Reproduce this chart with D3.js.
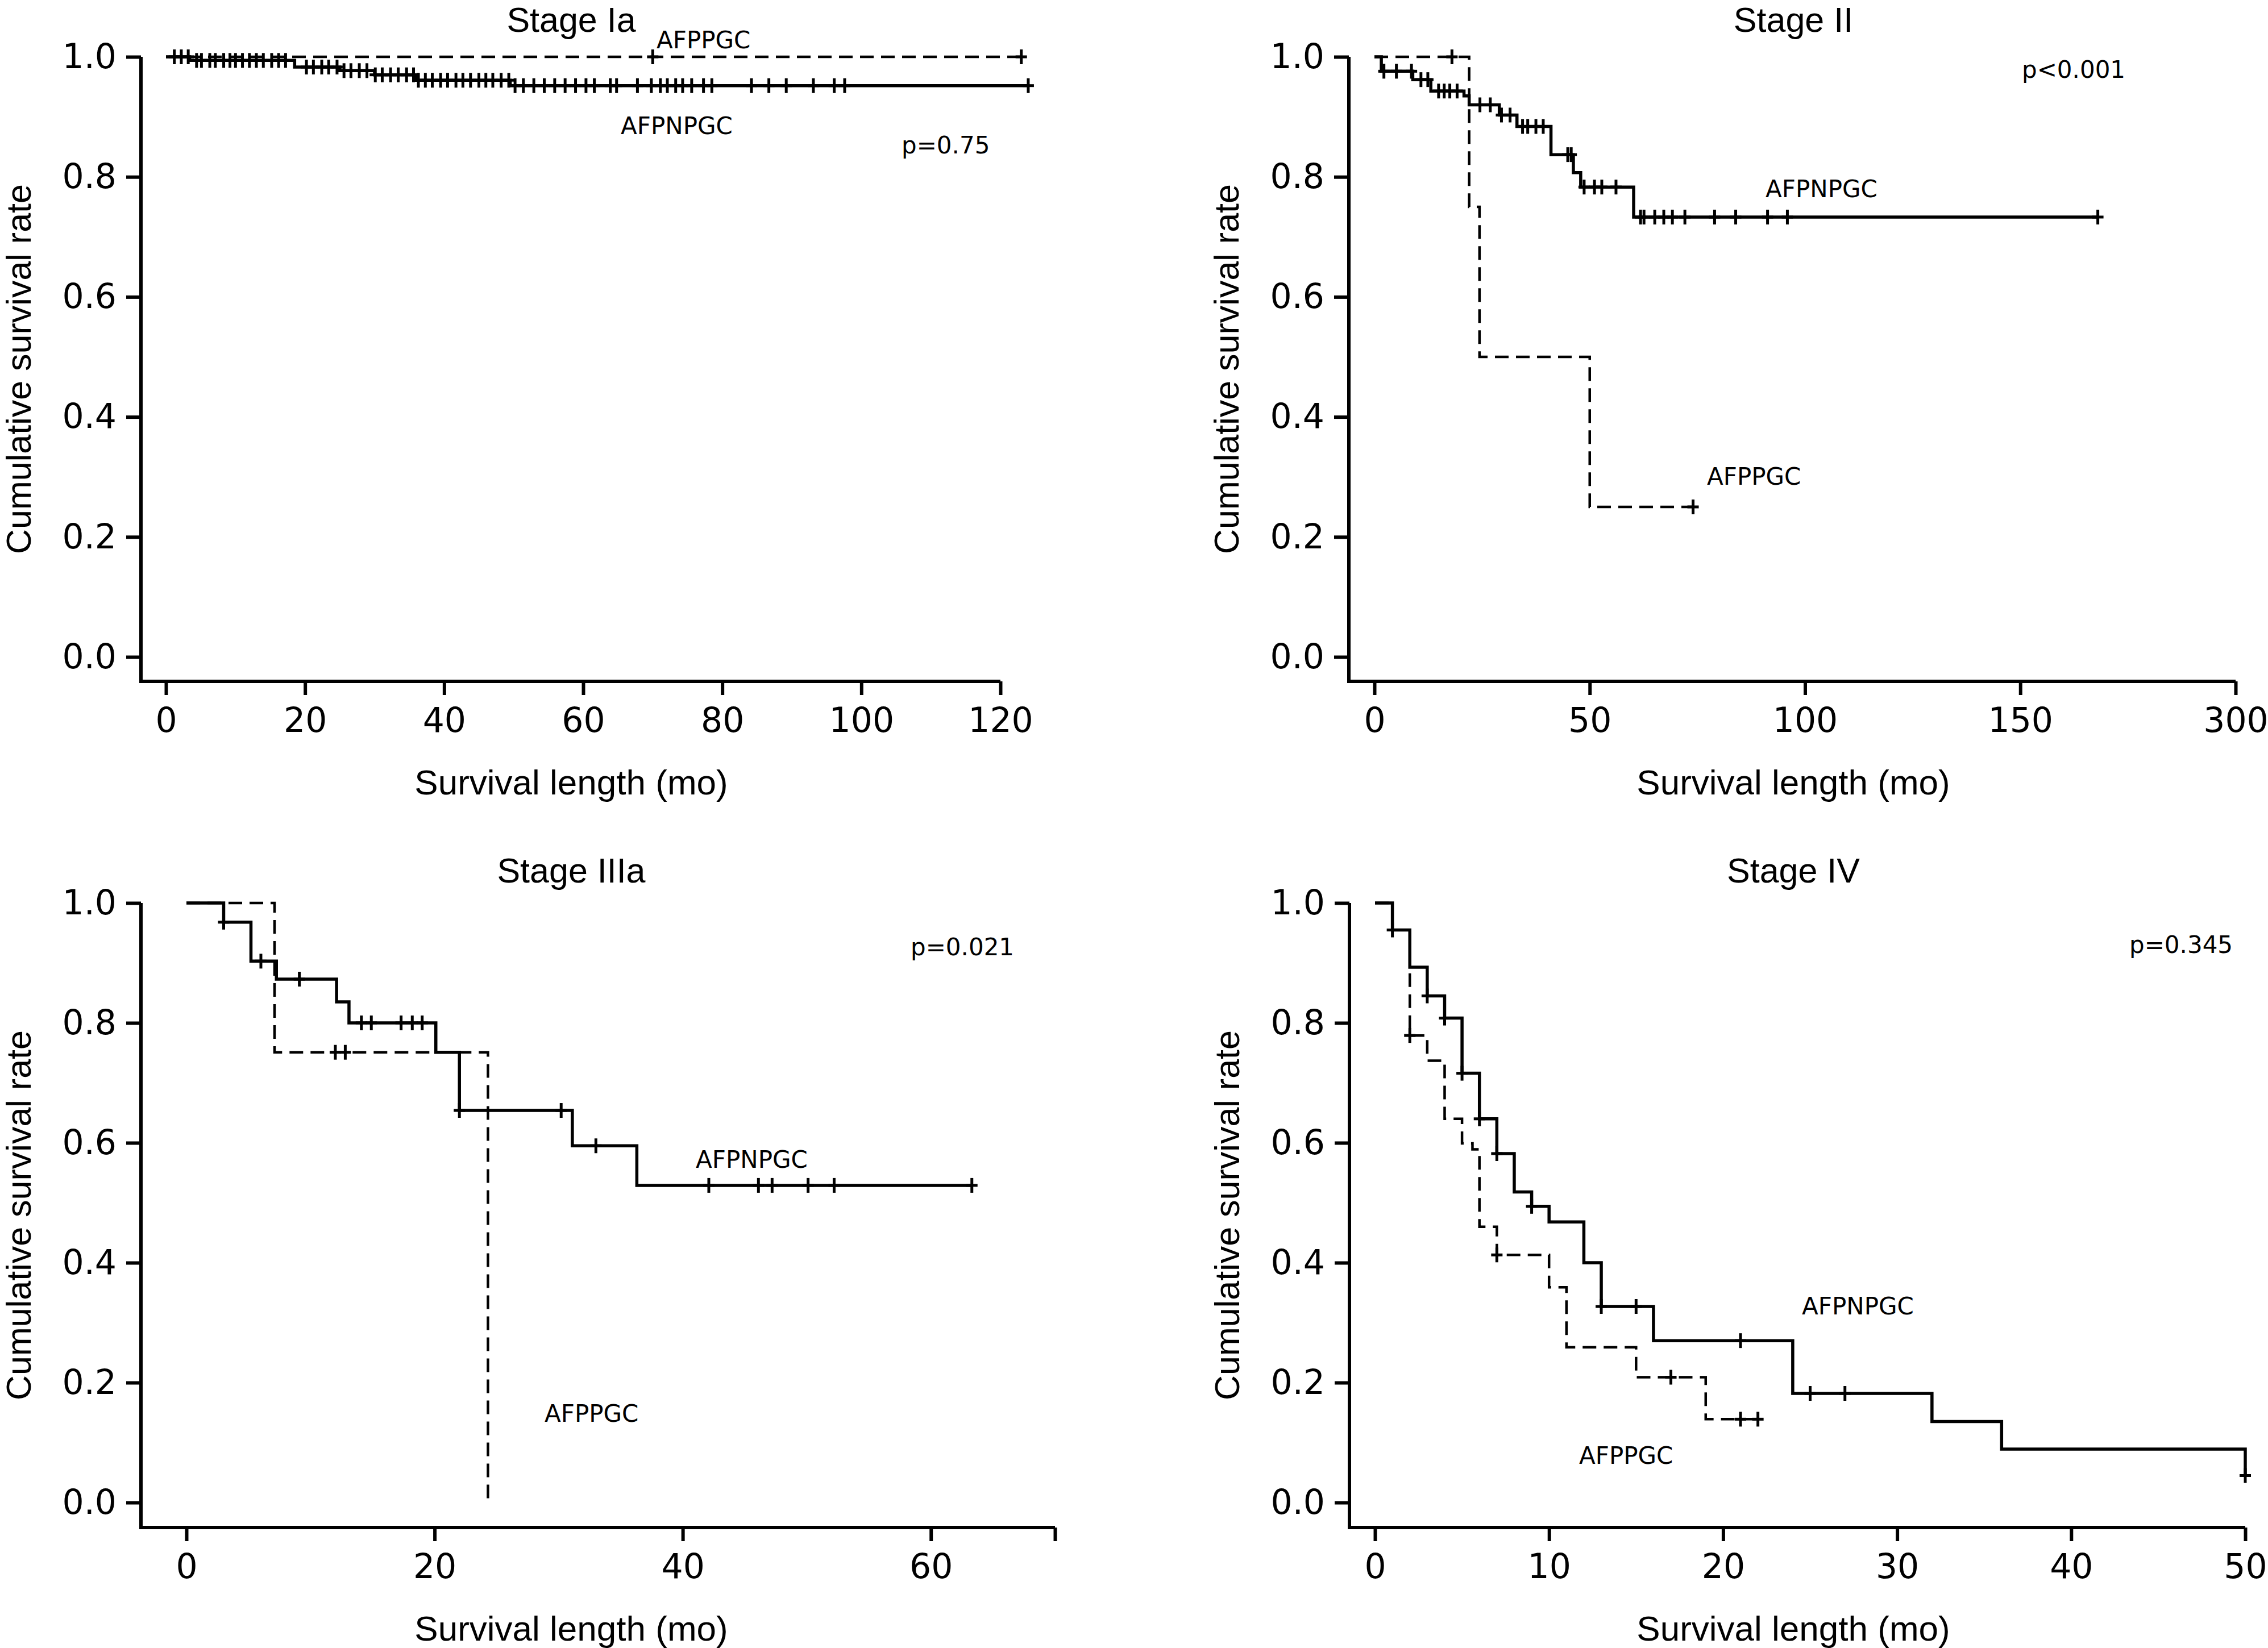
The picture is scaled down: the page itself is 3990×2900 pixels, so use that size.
<!DOCTYPE html>
<html><head><meta charset="utf-8">
<script src="https://cdn.jsdelivr.net/npm/d3@7"></script>
<style>body{margin:0;background:#fff}</style>
</head><body>
<svg id="c" width="3990" height="2900" xmlns="http://www.w3.org/2000/svg"></svg>
<script>
// ---------------- DATA ----------------
const yTickValues = [0, 0.2, 0.4, 0.6, 0.8, 1.0];
const panelTitles = ["Stage Ia", "Stage II", "Stage IIIa", "Stage IV"];
const pValues = ["p=0.75", "p<0.001", "p=0.021", "p=0.345"];
const xTitle = "Survival length (mo)";
const yTitle = "Cumulative survival rate";

// Stage Ia
const iaXTicks = [0, 20, 40, 60, 80, 100, 120];
const iaXTickLabels = ["0", "20", "40", "60", "80", "100", "120"];
const iaPosTimes = [0];
const iaPosSurv = [1.0];
const iaPosEnd = 123;
const iaPosCensor = [70, 123];
const iaNegTimes = [0, 3.4, 18.5, 25, 30, 36, 49.5];
const iaNegSurv = [1.0, 0.994, 0.983, 0.977, 0.970, 0.961, 0.952];
const iaNegEnd = 124;
const iaNegCensor = [1.2, 2.2, 3.2, 4.4, 5.1, 6.3, 7.1, 8.3, 9.2, 10.0, 11.0, 12.0, 13.0, 14.0, 15.2, 16.2, 17.2,
  20.2, 21.2, 22.4, 23.4, 24.6, 25.6, 26.6, 27.8, 28.9, 30.1, 31.1, 32.3, 33.4, 34.6, 35.6,
  36.3, 37.3, 38.3, 39.5, 40.5, 41.7, 42.7, 43.8, 45.0, 46.0, 47.0, 48.2, 49.3,
  50.2, 51.4, 52.9, 54.4, 55.9, 57.4, 58.9, 60.4, 61.6, 63.9, 64.8, 67.8, 69.8, 71.1, 72.1, 73.3,
  74.3, 75.6, 77.3, 78.5, 84.2, 86.7, 89.2, 93.1, 96.1, 97.6, 124];

// Stage II
const iiXTicks = [0, 50, 100, 150, 200];
const iiXTickLabels = ["0", "50", "100", "150", "300"];
const iiPosTimes = [0, 22, 24.4, 50];
const iiPosSurv = [1.0, 0.75, 0.5, 0.25];
const iiPosEnd = 74;
const iiPosCensor = [18, 74];
const iiNegTimes = [0, 1.6, 8.9, 13.1, 20.8, 22, 29, 33.1, 41, 46.2, 47.9, 60.2];
const iiNegSurv = [1.0, 0.976, 0.962, 0.943, 0.935, 0.920, 0.903, 0.884, 0.837, 0.807, 0.783, 0.733];
const iiNegEnd = 168;
const iiNegCensor = [2.2, 5.1, 8.6, 10.8, 12.4, 14.9, 16.2, 17.5, 19.2, 24.5, 26.9, 29.5, 31.5, 34.4, 35.6,
  37.5, 39.2, 44.9, 45.7, 48.7, 51.1, 52.8, 56.1, 61.8, 62.6, 65.1, 67.2, 69.2, 72.1, 79.0, 83.9, 91.3, 95.9, 168];

// Stage IIIa
const iiiXTicks = [0, 20, 40, 60, 70];
const iiiXTickLabels = ["0", "20", "40", "60", ""];
const iiiNegTimes = [0, 3, 5.2, 7.25, 12.1, 13.1, 20.1, 22, 31.1, 36.3];
const iiiNegSurv = [1.0, 0.968, 0.903, 0.873, 0.835, 0.800, 0.751, 0.654, 0.595, 0.529];
const iiiNegEnd = 63.3;
const iiiNegCensor = [3, 6, 9.1, 14.1, 14.9, 17.3, 18.2, 19.0, 22, 30.2, 33, 42.1, 46.1, 47.2, 50.1, 52.2, 63.3];
const iiiPosTimes = [0, 7.1, 24.3];
const iiiPosSurv = [1.0, 0.751, 0.0];
const iiiPosEnd = 24.3;
const iiiPosCensor = [12.0, 12.8];

// Stage IV
const ivXTicks = [0, 10, 20, 30, 40, 50];
const ivXTickLabels = ["0", "10", "20", "30", "40", "50"];
const ivNegTimes = [0, 1, 2, 3, 4, 5, 6, 7, 8, 9, 10, 12, 13, 16, 24, 32, 36, 50];
const ivNegSurv = [1.0, 0.955, 0.893, 0.845, 0.808, 0.716, 0.640, 0.582, 0.518, 0.494, 0.468, 0.400, 0.327, 0.270, 0.182, 0.135, 0.089, 0.045];
const ivNegEnd = 50;
const ivNegCensor = [1, 3, 4, 5, 6, 7, 9, 13, 15, 21, 25, 27, 50];
const ivPosTimes = [0, 1, 2, 3, 4, 5, 5.6, 6, 7, 10, 11, 15, 19];
const ivPosSurv = [1.0, 0.955, 0.779, 0.737, 0.640, 0.599, 0.589, 0.460, 0.413, 0.359, 0.259, 0.209, 0.139];
const ivPosEnd = 22;
const ivPosCensor = [2, 7, 17, 21, 22];

// ---------------- DRAW ----------------
const svg = d3.select("#c");
const FONT_MAIN = "'Liberation Sans', Arial, sans-serif";
const FONT_SMALL = "'DejaVu Sans', sans-serif";

function survAt(times, surv, t) {
  let s = surv[0];
  for (let i = 0; i < times.length; i++) if (times[i] <= t + 1e-9) s = surv[i];
  return s;
}

function drawCurve(g, x, y, times, surv, end, censor, dashed) {
  const pts = times.map((t, i) => [t, surv[i]]);
  pts.push([end, surv[surv.length - 1]]);
  const line = d3.line().x(d => x(d[0])).y(d => y(d[1])).curve(d3.curveStepAfter);
  g.append("path").attr("d", line(pts)).attr("fill", "none").attr("stroke", "#000")
    .attr("stroke-width", dashed ? 4.5 : 5.5)
    .attr("stroke-dasharray", dashed ? "24,13" : null);
  const cg = g.append("g").attr("stroke", "#000").attr("stroke-width", 5);
  censor.forEach(c => {
    const s = survAt(times, surv, c);
    cg.append("line").attr("x1", x(c)).attr("x2", x(c)).attr("y1", y(s) - 13).attr("y2", y(s) + 13);
    cg.append("line").attr("x1", x(c) - 10).attr("x2", x(c) + 10).attr("y1", y(s)).attr("y2", y(s));
  });
}

function drawPanel(p) {
  const g = svg.append("g");
  const x = d3.scaleLinear().domain(p.xDomain).range(p.xRange);
  const y = d3.scaleLinear().domain([0, 1]).range(p.yRange);

  // curves (drawn first, axes on top)
  p.curves.forEach(c => drawCurve(g, x, y, c.times, c.surv, c.end, c.censor, c.dashed));

  // axes lines
  g.append("path")
    .attr("d", `M${x(p.xDomain[1])},${p.axisY}H${p.axisX}V${y(1)}`)
    .attr("fill", "none").attr("stroke", "#000").attr("stroke-width", 6)
    .attr("stroke-linejoin", "miter");

  const yAxis = d3.axisLeft(y).tickValues(yTickValues).tickFormat(d3.format(".1f"))
    .tickSize(26).tickPadding(17);
  const ya = g.append("g").attr("transform", `translate(${p.axisX},0)`).call(yAxis);
  ya.select(".domain").remove();
  ya.selectAll(".tick line").attr("stroke-width", 6);
  ya.selectAll(".tick text").attr("font-family", FONT_SMALL).attr("font-size", 60).attr("fill", "#000");

  const xAxis = d3.axisBottom(x).tickValues(p.xTicks)
    .tickFormat((d, i) => p.xTickLabels[i]).tickSize(24).tickPadding(22);
  const xa = g.append("g").attr("transform", `translate(0,${p.axisY})`).call(xAxis);
  xa.select(".domain").remove();
  xa.selectAll(".tick line").attr("stroke-width", 6);
  xa.selectAll(".tick text").attr("font-family", FONT_SMALL).attr("font-size", 60).attr("fill", "#000");

  // titles
  g.append("text").attr("x", p.colCenter).attr("y", p.titleY).attr("text-anchor", "middle")
    .attr("font-family", FONT_MAIN).attr("font-size", 61).text(p.title);
  g.append("text").attr("x", p.colCenter).attr("y", p.axisY + 199).attr("text-anchor", "middle")
    .attr("font-family", FONT_MAIN).attr("font-size", 62).text(xTitle);
  g.append("text").attr("transform", `translate(${p.axisX - 194},${(y(1) + p.axisY) / 2}) rotate(-90)`)
    .attr("text-anchor", "middle").attr("font-family", FONT_MAIN).attr("font-size", 61).text(yTitle);

  // annotations
  p.labels.forEach(l => {
    g.append("text").attr("x", l.x).attr("y", l.y).attr("font-family", FONT_SMALL)
      .attr("font-size", 42).text(l.text);
  });
}

drawPanel({
  title: panelTitles[0], colCenter: 1005, titleY: 56,
  xDomain: [0, 120], xRange: [292, 1760], yRange: [1156, 100], axisX: 248, axisY: 1199,
  xTicks: iaXTicks, xTickLabels: iaXTickLabels,
  curves: [
    {times: iaPosTimes, surv: iaPosSurv, end: iaPosEnd, censor: iaPosCensor, dashed: true},
    {times: iaNegTimes, surv: iaNegSurv, end: iaNegEnd, censor: iaNegCensor, dashed: false}
  ],
  labels: [
    {text: "AFPPGC", x: 1155, y: 85},
    {text: "AFPNPGC", x: 1092, y: 236},
    {text: pValues[0], x: 1586, y: 270}
  ]
});

drawPanel({
  title: panelTitles[1], colCenter: 3155, titleY: 56,
  xDomain: [0, 200], xRange: [2418, 3933], yRange: [1156, 100], axisX: 2373, axisY: 1199,
  xTicks: iiXTicks, xTickLabels: iiXTickLabels,
  curves: [
    {times: iiPosTimes, surv: iiPosSurv, end: iiPosEnd, censor: iiPosCensor, dashed: true},
    {times: iiNegTimes, surv: iiNegSurv, end: iiNegEnd, censor: iiNegCensor, dashed: false}
  ],
  labels: [
    {text: pValues[1], x: 3557, y: 137},
    {text: "AFPNPGC", x: 3106, y: 347},
    {text: "AFPPGC", x: 3003, y: 853}
  ]
});

drawPanel({
  title: panelTitles[2], colCenter: 1005, titleY: 1553,
  xDomain: [0, 70], xRange: [328, 1856], yRange: [2644, 1589], axisX: 248, axisY: 2688,
  xTicks: iiiXTicks, xTickLabels: iiiXTickLabels,
  curves: [
    {times: iiiPosTimes, surv: iiiPosSurv, end: iiiPosEnd, censor: iiiPosCensor, dashed: true},
    {times: iiiNegTimes, surv: iiiNegSurv, end: iiiNegEnd, censor: iiiNegCensor, dashed: false}
  ],
  labels: [
    {text: pValues[2], x: 1602, y: 1681},
    {text: "AFPNPGC", x: 1224, y: 2055},
    {text: "AFPPGC", x: 958, y: 2502}
  ]
});

drawPanel({
  title: panelTitles[3], colCenter: 3155, titleY: 1553,
  xDomain: [0, 50], xRange: [2419, 3950], yRange: [2644, 1589], axisX: 2374, axisY: 2688,
  xTicks: ivXTicks, xTickLabels: ivXTickLabels,
  curves: [
    {times: ivPosTimes, surv: ivPosSurv, end: ivPosEnd, censor: ivPosCensor, dashed: true},
    {times: ivNegTimes, surv: ivNegSurv, end: ivNegEnd, censor: ivNegCensor, dashed: false}
  ],
  labels: [
    {text: pValues[3], x: 3746, y: 1677},
    {text: "AFPNPGC", x: 3170, y: 2313},
    {text: "AFPPGC", x: 2778, y: 2576}
  ]
});
</script>
</body></html>
